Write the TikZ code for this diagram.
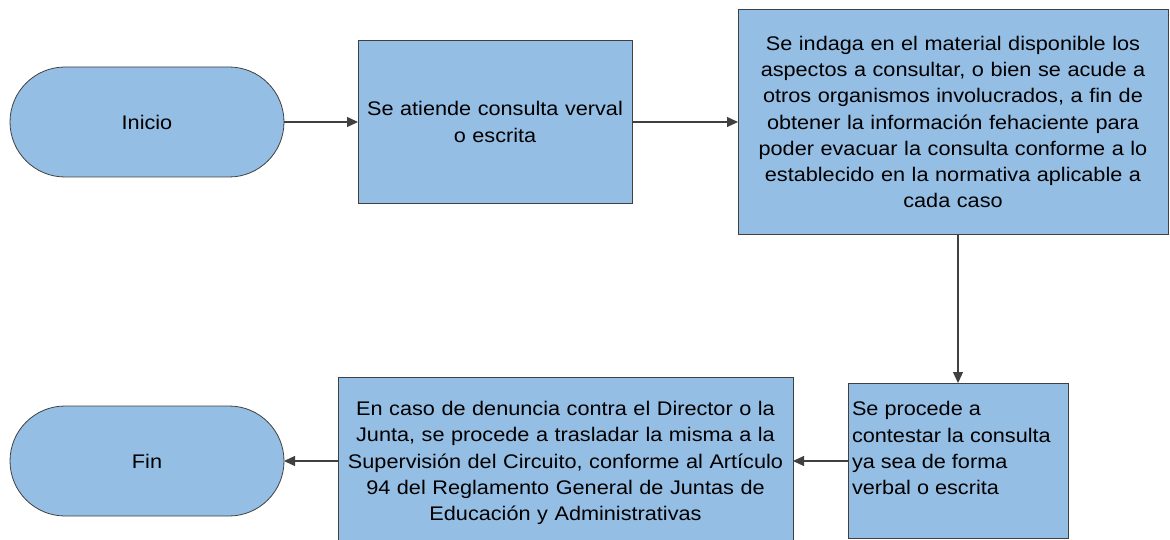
\documentclass[tikz,border=0pt]{standalone}
\usepackage{fontspec}
\setmainfont{Liberation Sans}[FakeStretch=1.1]
\usetikzlibrary{arrows.meta}
\definecolor{boxfill}{RGB}{149,190,228}
\definecolor{edgegray}{RGB}{64,64,64}
\begin{document}
\begin{tikzpicture}[x=1pt,y=-1pt,
  every node/.style={font=\fontsize{19.7}{26.3}\selectfont, inner sep=0pt, outer sep=0pt},
  procbox/.style={draw=edgegray, line width=0.8pt, fill=boxfill, align=center},
  termbox/.style={procbox, rounded corners=55pt, minimum width=274pt, minimum height=110pt},
  flow/.style={draw=edgegray, line width=1.1pt, -{Triangle[length=11pt,width=10pt]}}]
\useasboundingbox (0,0) rectangle (1170,540);
\node[termbox] (inicio) at (147,122) {Inicio};
\node[procbox, minimum width=274pt, minimum height=163pt, text width=266pt] (b2) at (495,122)
  {Se atiende consulta verval\\o escrita};
\node[procbox, minimum width=430pt, minimum height=225pt, text width=424pt] (b3) at (953,122)
  {Se indaga en el material disponible los\\aspectos a consultar, o bien se acude a\\otros organismos involucrados, a fin de\\obtener la información fehaciente para\\poder evacuar la consulta conforme a lo\\establecido en la normativa aplicable a\\cada caso};
\node[procbox, minimum width=220pt, minimum height=155pt] (b4) at (958,460.5) {};
\node[anchor=north west, align=left] (b4text) at (852,401.5)
  {Se procede a\\contestar la consulta\\ya sea de forma\\verbal o escrita};
\node[procbox, minimum width=455pt, minimum height=172pt, text width=451pt] (b5) at (565.5,463)
  {En caso de denuncia contra el Director o la\\Junta, se procede a trasladar la misma a la\\Supervisión del Circuito, conforme al Artículo\\94 del Reglamento General de Juntas de\\Educación y Administrativas};
\node[termbox] (fin) at (147,461) {Fin};
\draw[flow] (inicio.east) -- (b2.west);
\draw[flow] (b2.east) -- (b3.west);
\draw[flow] (b4.north |- b3.south) -- (b4.north);
\draw[flow] (b4.west |- fin.east) -- (b5.east |- fin.east);
\draw[flow] (b5.west |- fin.east) -- (fin.east);
\end{tikzpicture}
\end{document}
